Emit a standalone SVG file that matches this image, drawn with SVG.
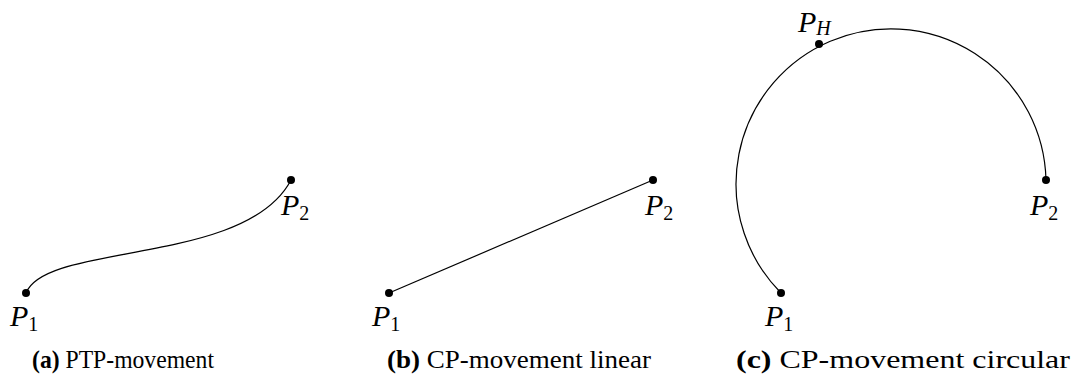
<svg xmlns="http://www.w3.org/2000/svg" width="1088" height="392" viewBox="0 0 1088 392">
<style>
.ln{fill:none;stroke:#000;stroke-width:1.2}
.dot{fill:#000}
.lbl{font-family:"Liberation Serif",serif;font-style:italic;font-size:30px;fill:#000}
.sub{font-style:normal;font-size:20px}
.subi{font-size:20px}
.cap{font-family:"Liberation Serif",serif;font-size:26px;fill:#000}
.b{font-weight:bold}
</style>
<g id="connectors">
<path class="ln" d="M26,293 C46,242 246,266 291,180"/>
<path class="ln" d="M389,293 L653,180"/>
<path class="ln" d="M781,293 A155,155 0 1 1 1046,180"/>
</g>
<g id="a-P1"><circle class="dot" cx="26" cy="293" r="4"/><text class="lbl" x="10" y="326">P<tspan class="sub" dy="5">1</tspan></text></g>
<g id="a-P2"><circle class="dot" cx="291" cy="180" r="4"/><text class="lbl" x="281" y="215">P<tspan class="sub" dy="5">2</tspan></text></g>
<g id="b-P1"><circle class="dot" cx="389" cy="293" r="4"/><text class="lbl" x="372" y="326">P<tspan class="sub" dy="5">1</tspan></text></g>
<g id="b-P2"><circle class="dot" cx="653" cy="180" r="4"/><text class="lbl" x="645" y="215">P<tspan class="sub" dy="5">2</tspan></text></g>
<g id="c-P1"><circle class="dot" cx="781" cy="293" r="4"/><text class="lbl" x="765" y="326">P<tspan class="sub" dy="5">1</tspan></text></g>
<g id="c-P2"><circle class="dot" cx="1046" cy="180" r="4"/><text class="lbl" x="1030" y="215">P<tspan class="sub" dy="5">2</tspan></text></g>
<g id="c-PH"><circle class="dot" cx="819" cy="44" r="4"/><text class="lbl" x="798" y="32">P<tspan class="subi" dy="3">H</tspan></text></g>
<g id="captions">
<text class="cap" x="32" y="368" textLength="182" lengthAdjust="spacingAndGlyphs"><tspan class="b">(a)</tspan> PTP-movement</text>
<text class="cap" x="387" y="368" textLength="264" lengthAdjust="spacingAndGlyphs"><tspan class="b">(b)</tspan> CP-movement linear</text>
<text class="cap" x="736" y="368" textLength="334" lengthAdjust="spacingAndGlyphs"><tspan class="b">(c)</tspan> CP-movement circular</text>
</g>
</svg>
